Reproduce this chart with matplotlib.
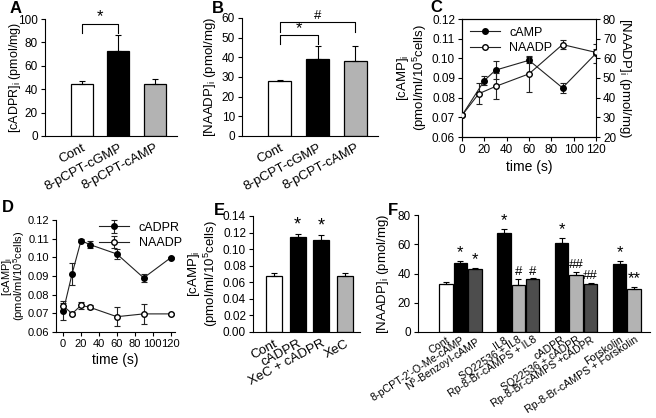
import matplotlib
matplotlib.use("Agg")
import matplotlib.pyplot as plt
import numpy as np

plt.rcParams['font.family'] = ['Liberation Sans', 'DejaVu Sans']
plt.rcParams['font.size'] = 8
plt.rcParams['mathtext.default'] = 'regular'

# ---- data ----
a_labels = ["Cont", "8-pCPT-cGMP", "8-pCPT-cAMP"]
a_vals = [44.6, 72.6, 44.6]
a_err = [2.0, 14.0, 4.3]

b_labels = ["Cont", "8-pCPT-cGMP", "8-pCPT-cAMP"]
b_vals = [27.8, 39.2, 38.0]
b_err = [0.8, 6.5, 7.7]

c_camp_t = [0, 20, 30, 60, 90, 120]
c_camp = [0.071, 0.0887, 0.0940, 0.0990, 0.0850, 0.1025]
c_camp_err = [0.0, 0.0023, 0.0047, 0.0016, 0.0025, 0.0050]
c_naadp_t = [0, 15, 30, 60, 90, 120]
c_naadp = [31.0, 42.0, 45.7, 52.1, 67.0, 63.0]
c_naadp_err = [0.0, 5.3, 6.6, 9.0, 2.5, 1.5]

d_t = [0, 10, 20, 30, 60, 90, 120]
d_cadpr = [0.0710, 0.0912, 0.1090, 0.1068, 0.1018, 0.0890, 0.0997]
d_cadpr_err = [0.0045, 0.0060, 0.0008, 0.0020, 0.0026, 0.0020, 0.0004]
d_naadp = [0.0740, 0.0698, 0.0743, 0.0732, 0.0682, 0.0697, 0.0697]
d_naadp_err = [0.0028, 0.0008, 0.0018, 0.0010, 0.0050, 0.0052, 0.0005]

e_labels = ["Cont", "cADPR", "XeC + cADPR", "XeC"]
e_vals = [0.068, 0.1146, 0.1106, 0.0672]
e_err = [0.0032, 0.0038, 0.0065, 0.0040]
e_colors = ["white", "black", "black", "#b3b3b3"]

f_labels = ["Cont", "8-pCPT-2'-O-Me-cAMP", "N$^6$-Benzoyl-cAMP",
            "IL8", "SQ22536 + IL8", "Rp-8-Br-cAMPS + IL8",
            "cADPR", "SQ22536 + cADPR", "Rp-8-Br-cAMPS +cADPR",
            "Forskolin", "Rp-8-Br-cAMPS + Forskolin"]
f_pos = [0, 1, 2, 4, 5, 6, 8, 9, 10, 12, 13]
f_vals = [33.1, 47.3, 43.0, 67.7, 32.0, 36.1, 60.6, 39.3, 32.7, 46.2, 29.7]
f_err = [0.8, 1.4, 1.0, 2.7, 4.3, 0.5, 3.9, 1.6, 1.1, 2.5, 1.2]
f_colors = ["white", "black", "#4d4d4d", "black", "#b3b3b3", "#4d4d4d",
            "black", "#b3b3b3", "#4d4d4d", "black", "#b3b3b3"]
f_marks = ["", "*", "*", "*", "#", "#", "*", "##", "##", "*", "**"]

W, H = 656, 418
fig = plt.figure(figsize=(W / 100, H / 100), dpi=100)


def box(l, r, t, b):
    return fig.add_axes([l / W, 1 - b / H, (r - l) / W, (b - t) / H])


def style(ax, size=8.5):
    for s in ["top", "right"]:
        ax.spines[s].set_visible(False)
    for s in ["left", "bottom", "right", "top"]:
        ax.spines[s].set_linewidth(0.8)
    ax.tick_params(direction="out", length=3, width=0.8, pad=2, labelsize=size)


def bars(ax, x, vals, err, colors, width):
    ax.bar(x, vals, width=width, color=colors, edgecolor="black", linewidth=0.9, zorder=2)
    ax.errorbar(x, vals, yerr=[np.zeros(len(vals)), err], fmt="none", ecolor="black",
                elinewidth=0.8, capsize=2.5, capthick=0.8, zorder=3)


ebkw = dict(fmt="-o", color="#222222", mec="black", ms=4, lw=0.8,
            elinewidth=0.8, capsize=2.5, capthick=0.8)

# ---- A ----
axA = box(45, 177, 19, 136)
style(axA)
bars(axA, range(3), a_vals, a_err, ["white", "black", "#b3b3b3"], 0.6)
axA.set_xlim(-1.0, 2.6)
axA.set_ylim(0, 100)
axA.set_yticks(range(0, 101, 20))
axA.set_xticks(range(3))
axA.set_xticklabels(a_labels, rotation=28, ha="right", rotation_mode="anchor", fontsize=9.5)
axA.tick_params(axis="x", length=0, pad=4)
axA.set_ylabel("[cADPR]$_i$ (pmol/mg)", fontsize=9)
axA.yaxis.set_label_coords(-0.17, 0.5)
axA.plot([0, 0, 1, 1], [88, 95.5, 95.5, 88], color="black", lw=0.8)
axA.text(0.5, 95.5, "*", ha="center", va="bottom", fontsize=12)

# ---- B ----
axB = box(242, 378, 18, 136)
style(axB)
bars(axB, range(3), b_vals, b_err, ["white", "black", "#b3b3b3"], 0.6)
axB.set_xlim(-1.0, 2.6)
axB.set_ylim(0, 60)
axB.set_yticks(range(0, 61, 10))
axB.set_xticks(range(3))
axB.set_xticklabels(b_labels, rotation=28, ha="right", rotation_mode="anchor", fontsize=9.5)
axB.tick_params(axis="x", length=0, pad=4)
axB.set_ylabel("[NAADP]$_i$ (pmol/mg)", fontsize=9.5, labelpad=3)
axB.plot([0, 0, 1, 1], [46.9, 51.2, 51.2, 46.9], color="black", lw=0.8)
axB.text(0.5, 51.0, "*", ha="center", va="bottom", fontsize=12)
axB.plot([0, 0, 2, 2], [52.9, 58.1, 58.1, 52.9], color="black", lw=0.8)
axB.text(1.0, 58.0, "#", ha="center", va="bottom", fontsize=9.5)

# ---- C ----
axC = box(462, 596, 19, 137)
style(axC)
axC.spines["top"].set_visible(True)
axC.set_xlim(0, 120)
axC.set_ylim(0.06, 0.12)
axC.set_xticks(range(0, 121, 20))
axC.set_yticks(np.arange(0.06, 0.121, 0.01))
axC.set_yticklabels(["%.2f" % v for v in np.arange(0.06, 0.121, 0.01)])
axC.set_xlabel("time (s)", fontsize=10, labelpad=3)
axC.set_ylabel("[cAMP]$_i$\n(pmol/ml/10$^5$cells)", fontsize=9.5, labelpad=2, linespacing=1.0)
l1 = axC.errorbar(c_camp_t, c_camp, yerr=c_camp_err, mfc="black", zorder=3, **ebkw)
axC2 = axC.twinx()
axC2.set_ylim(20, 80)
axC2.set_yticks(range(20, 81, 10))
axC2.spines["right"].set_linewidth(0.8)
axC2.spines["top"].set_linewidth(0.8)
axC2.tick_params(direction="out", length=3, width=0.8, pad=2, labelsize=8.5)
l2 = axC2.errorbar(c_naadp_t, c_naadp, yerr=c_naadp_err, mfc="white", zorder=3, **ebkw)
axC2.set_ylabel("[NAADP]$_i$ (pmol/mg)", fontsize=9.5, rotation=270, labelpad=12)
axC.legend([l1.lines[0], l2.lines[0]], ["cAMP", "NAADP"], loc="upper left", frameon=False,
           fontsize=9, handlelength=2.4, borderaxespad=0.2, labelspacing=0.3)

# ---- D ----
axD = box(56, 175, 220, 332)
style(axD, size=8)
axD.set_xlim(-8, 125)
axD.set_ylim(0.06, 0.12)
axD.set_xticks(range(0, 121, 20))
axD.set_yticks(np.arange(0.06, 0.121, 0.01))
axD.set_yticklabels(["%.2f" % v for v in np.arange(0.06, 0.121, 0.01)])
axD.set_xlabel("time (s)", fontsize=10, labelpad=3)
fig.text(6.5 / W, 1 - 276 / H, "[cAMP]$_i$", fontsize=8, rotation=90, ha="center", va="center")
fig.text(19.5 / W, 1 - 276 / H, "(pmol/ml/10$^5$cells)", fontsize=8, rotation=90,
         ha="center", va="center")
axD.errorbar(d_t, d_cadpr, yerr=d_cadpr_err, mfc="black", label="cADPR", **ebkw)
axD.errorbar(d_t, d_naadp, yerr=d_naadp_err, mfc="white", label="NAADP", **ebkw)
axD.legend(loc="upper right", frameon=False, fontsize=9, handlelength=2.4,
           borderaxespad=0.0, labelspacing=0.3, bbox_to_anchor=(1.1, 1.03))

# ---- E ----
axE = box(253, 360, 216, 332)
style(axE)
bars(axE, range(4), e_vals, e_err, e_colors, 0.68)
axE.set_xlim(-0.89, 3.63)
axE.set_ylim(0, 0.14)
axE.set_yticks(np.arange(0, 0.141, 0.02))
axE.set_yticklabels(["%.2f" % v for v in np.arange(0, 0.141, 0.02)])
axE.set_xticks(range(4))
axE.set_xticklabels(e_labels, rotation=28, ha="right", rotation_mode="anchor", fontsize=9.5)
axE.tick_params(axis="x", length=0, pad=4)
axE.set_ylabel("[cAMP]$_i$\n(pmol/ml/10$^5$cells)", fontsize=9.5, labelpad=2, linespacing=1.0)
for i in (1, 2):
    axE.text(i, e_vals[i] + e_err[i] + 0.001, "*", ha="center", va="bottom", fontsize=13)

# ---- F ----
axF = box(418, 650, 215, 332)
style(axF)
bars(axF, f_pos, f_vals, f_err, f_colors, 0.93)
axF.set_xlim(-1.93, 14.1)
axF.set_ylim(0, 80)
axF.set_yticks(range(0, 81, 20))
axF.set_xticks(f_pos)
axF.set_xticklabels(f_labels, rotation=33, ha="right", rotation_mode="anchor", fontsize=7.7)
axF.tick_params(axis="x", length=0, pad=2)
axF.set_ylabel("[NAADP]$_i$ (pmol/mg)", fontsize=9.5, labelpad=5)
for x, v, e, m in zip(f_pos, f_vals, f_err, f_marks):
    if m:
        fs = 12 if "*" in m else 9.5
        axF.text(x, v + e + 0.5, m, ha="center", va="bottom", fontsize=fs)

# ---- panel letters ----
for lab, x, y in [("A", 10, 1), ("B", 212, 1), ("C", 430, 0),
                  ("D", 2, 200), ("E", 214, 203), ("F", 388, 203)]:
    fig.text(x / W, 1 - y / H, lab, fontsize=12, fontweight="bold", va="top", ha="left")

fig.savefig("out.png", dpi=100)
